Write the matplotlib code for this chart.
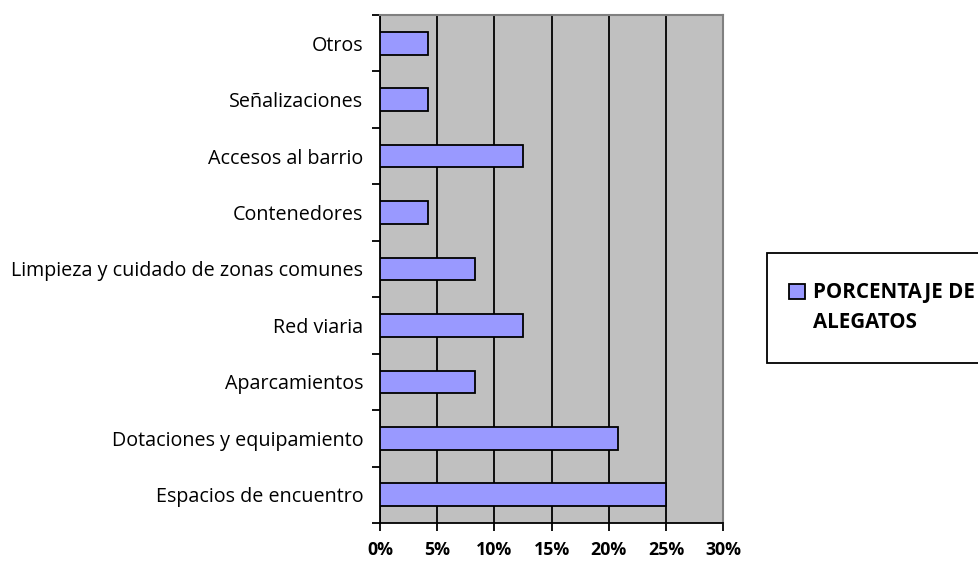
import matplotlib.pyplot as plt
import matplotlib.patches as mpatches
from matplotlib.ticker import FuncFormatter, MultipleLocator

categories = ['Espacios de encuentro', 'Dotaciones y equipamiento', 'Aparcamientos',
              'Red viaria', 'Limpieza y cuidado de zonas comunes', 'Contenedores',
              'Accesos al barrio', 'Señalizaciones', 'Otros']
values = [25.0, 20.8, 8.3, 12.5, 8.3, 4.2, 12.5, 4.2, 4.2]
series_name = ['PORCENTAJE DE', 'ALEGATOS']

plt.rcParams['font.family'] = ['Open Sans', 'DejaVu Sans']

fig = plt.figure(figsize=(9.79, 5.64), dpi=100)
ax = fig.add_axes([0.3882, 0.0727, 0.3504, 0.9007])
ax.set_facecolor('#C0C0C0')

pos = list(range(len(categories)))
bars = ax.barh(pos, values, height=0.4, color='#9999FF', edgecolor='black',
               linewidth=1.3, zorder=3)

ax.set_xlim(0, 30)
ax.set_ylim(-0.5, len(categories) - 0.5)
ax.xaxis.set_major_locator(MultipleLocator(5))
ax.xaxis.set_major_formatter(FuncFormatter(lambda v, p: f'{v:.0f}%'))
ax.grid(axis='x', color='black', linewidth=1.3, zorder=1)

ax.set_yticks(pos)
ax.set_yticklabels(categories, fontsize=14.2)
ax.set_yticks([p - 0.5 for p in pos] + [len(categories) - 0.5], minor=True)
ax.tick_params(axis='y', which='major', length=0, pad=12)
ax.tick_params(axis='y', which='minor', length=6, width=1.3, direction='out')
ax.tick_params(axis='x', length=6, width=1.3, direction='out', pad=7)
for lbl in ax.get_xticklabels():
    lbl.set_fontweight('bold')
    lbl.set_fontsize(12.8)

for side in ['left', 'bottom']:
    ax.spines[side].set_linewidth(1.3)
    ax.spines[side].set_color('black')
for side in ['top', 'right']:
    ax.spines[side].set_linewidth(1.5)
    ax.spines[side].set_color('#808080')

# legend box running off the right edge
frame = mpatches.Rectangle((767 / 979, 1 - 363 / 564), 230 / 979, 110 / 564,
                           transform=fig.transFigure, facecolor='white',
                           edgecolor='black', linewidth=1.3, clip_on=False)
fig.patches.append(frame)
leg = fig.legend(handles=[bars], labels=[series_name[0]], loc='center left',
                 bbox_to_anchor=(779 / 979, 1 - 293 / 564), frameon=False,
                 prop={'weight': 'bold', 'size': 14.8}, handlelength=0.75,
                 handleheight=0.75, handletextpad=0.4, borderpad=0)

fig.canvas.draw()
bb = leg.get_texts()[0].get_window_extent()
fig.text(bb.x0 / fig.bbox.width, (564 - 322) / 564, series_name[1],
         fontsize=14.8, fontweight='bold', va='center', ha='left')

fig.savefig('out.png', dpi=100)
